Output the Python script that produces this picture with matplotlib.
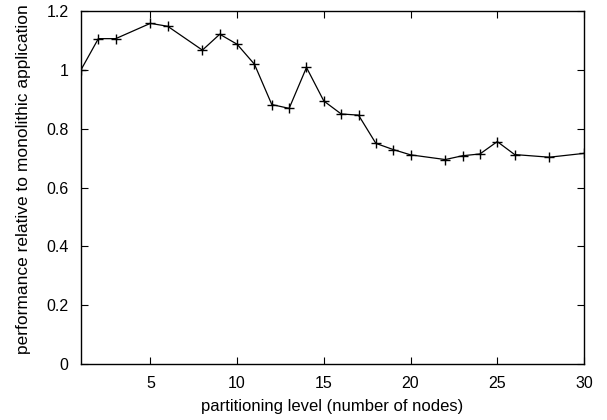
import matplotlib
matplotlib.use("Agg")
from matplotlib import pyplot as plt
from matplotlib.ticker import FuncFormatter

# values
nodes = [1, 2, 3, 5, 6, 8, 9, 10, 11, 12, 13, 14, 15, 16, 17, 18, 19, 20, 22, 23, 24, 25, 26, 28, 30]
perf = [1.0, 1.106, 1.106, 1.158, 1.148, 1.067, 1.121, 1.087, 1.019, 0.882, 0.869, 1.008, 0.894,
        0.850, 0.846, 0.750, 0.729, 0.711, 0.695, 0.708, 0.714, 0.756, 0.712, 0.703, 0.716]
x_ticks = [5, 10, 15, 20, 25, 30]
y_ticks = [0, 0.2, 0.4, 0.6, 0.8, 1.0, 1.2]

plt.rcParams['font.family'] = ['Liberation Sans', 'DejaVu Sans']
plt.rcParams['font.size'] = 11.5

fig = plt.figure(figsize=(6.07, 4.2), dpi=100)
ax = fig.add_axes([81/607, 1 - 364/420, (584-81)/607, (364-11)/420])

ax.plot(nodes, perf, color='black', linewidth=0.9, marker='+', markersize=7, markeredgewidth=1.0)

ax.set_xlim(1, 30)
ax.set_ylim(0, 1.2)
ax.set_xticks(x_ticks)
ax.set_yticks(y_ticks)
ax.yaxis.set_major_formatter(FuncFormatter(lambda v, p: f'{v:g}'))
ax.tick_params(direction='in', top=True, right=True, length=5, width=0.8, pad=9)
for s in ax.spines.values():
    s.set_linewidth(1.0)

ax.set_xlabel('partitioning level (number of nodes)', fontsize=12)
ax.set_ylabel('performance relative to monolithic application', fontsize=12.5)
ax.xaxis.set_label_coords(0.5, -0.098)
ax.yaxis.set_label_coords(-0.1, 0.525)

fig.savefig('out.png', dpi=100)
